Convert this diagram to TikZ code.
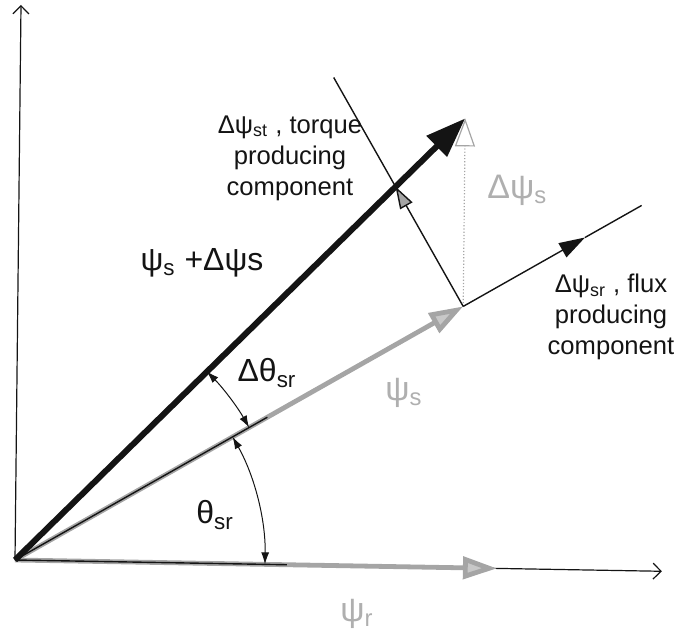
\documentclass[tikz,border=0pt]{standalone}
\usepackage{fontspec}
\setmainfont{Liberation Sans}
\usepackage{tikz}
\usetikzlibrary{arrows.meta, calc, positioning}
\definecolor{mydark}{RGB}{20,20,20}
\definecolor{vecgray}{RGB}{165,165,165}
\definecolor{headgray}{RGB}{200,200,200}
\definecolor{lblgray}{RGB}{175,175,175}
\tikzset{
  axisline/.style={line width=0.6pt, color=mydark,
    -{Straight Barb[length=4pt,width=8pt]}},
  grayvec/.style={line width=2.4pt, color=vecgray,
    -{Triangle[length=17pt,width=11pt,fill=headgray]}},
  bigvec/.style={line width=3pt, color=mydark,
    -{Triangle[length=20pt,width=14pt]}},
  thinvec/.style={line width=0.7pt, color=mydark},
  anglearc/.style={line width=0.5pt, color=mydark,
    {Latex[length=6pt,width=4pt]}-{Latex[length=6pt,width=4pt]}},
  lbl/.style={font=\fontsize{12.8}{15.5}\selectfont, align=center,
    text=mydark, inner sep=1pt},
  biglbl/.style={font=\fontsize{16}{19}\selectfont, text=mydark, inner sep=1pt},
  graylbl/.style={font=\fontsize{17}{20}\selectfont, text=lblgray, inner sep=1pt}
}

\begin{document}
\begin{tikzpicture}[x=0.5pt, y=0.5pt]
  \useasboundingbox (0,0) rectangle (681,637);
  % points of the vector diagram
  \coordinate (O) at (15,77);
  \coordinate (xend) at ($(O)+(-1:647)$);
  \coordinate (yend) at (21,632);
  \coordinate (R) at ($(O)+(-1:482)$);
  \coordinate (P) at ($(O)+(29.5:515)$);
  \coordinate (T) at ($(P)+(2,188)$);
  \coordinate (F) at ($(P)+(119.5:263)$);
  \coordinate (Q) at (intersection of O--T and P--F);
  \coordinate (A) at ($(P)+(29.5:140)$);
  \coordinate (E) at ($(P)+(29.5:205)$);
  \coordinate (S1) at ($(O)+(29.5:290)$);
  \coordinate (S2) at ($(O)+(-1:272)$);

  % axes
  \draw[axisline] (O) -- (xend);
  \draw[axisline] (O) -- (yend);

  % rotor and stator flux
  \draw[grayvec] (O) -- (R);
  \draw[grayvec] (O) -- (P);
  \draw[thinvec] (O) -- (S1);
  \draw[thinvec] (O) -- (S2);

  % flux change and its components
  \draw[line width=0.6pt, color=vecgray, densely dotted,
    -{Triangle[open, length=14pt, width=10pt]}] (P) -- (T);
  \draw[thinvec] (Q) -- (F);
  \draw[thinvec, -{Triangle[length=11pt,width=7pt,fill=vecgray]}] (P) -- (Q);
  \draw[thinvec, -{Triangle[length=13pt,width=8pt]}] (P) -- (A);
  \draw[thinvec] (A) -- (E);
  \draw[bigvec] (O) -- (T);

  % angles
  \draw[anglearc] ($(O)+(-1:250)$) arc[start angle=-1, end angle=29.5, radius=250];
  \draw[anglearc] ($(O)+(29.5:269)$) arc[start angle=29.5, end angle=44.5, radius=269];

  % labels
  \node[biglbl] (sumlbl) at (202,374) {ψ\textsubscript{s} +Δψs};
  \node[lbl] (torquelbl) at (290,479) {Δψ\textsubscript{st} , torque\\producing\\component};
  \node[lbl] (fluxlbl) at (611,320) {Δψ\textsubscript{sr} , flux\\producing\\component};
  \node[graylbl, anchor=west] (dpsilbl) at (485,447) {Δψ\textsubscript{s}};
  \node[graylbl] (psislbl) at (404,244) {ψ\textsubscript{s}};
  \node[graylbl] (psirlbl) at (357,23) {ψ\textsubscript{r}};
  \node[biglbl] (thetalbl) at (215,122) {θ\textsubscript{sr}};
  \node[biglbl] (dthetalbl) at (267,264) {Δθ\textsubscript{sr}};
\end{tikzpicture}
\end{document}
